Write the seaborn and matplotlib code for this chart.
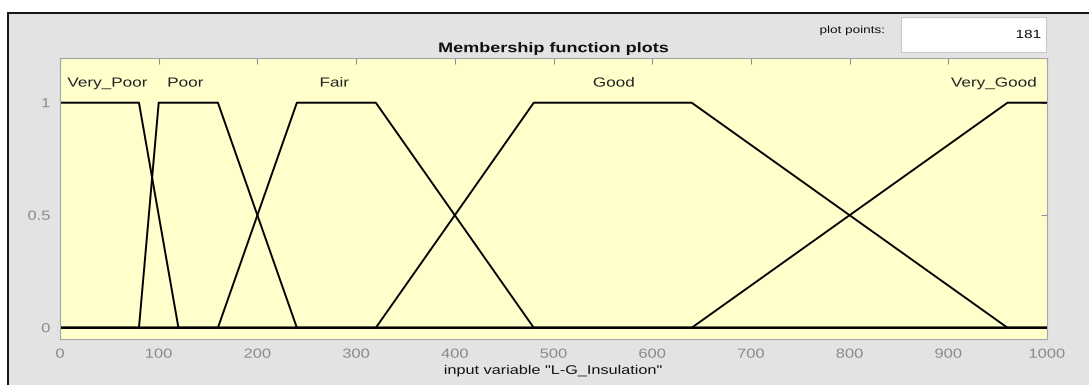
import matplotlib
matplotlib.use("Agg")
import matplotlib.pyplot as plt
import numpy as np
import pandas as pd
import seaborn as sns
from matplotlib import patheffects
from matplotlib.patches import Rectangle
from matplotlib.transforms import Affine2D

# Membership functions of the input variable: trapezoid corners (a, b, c, d)
set_names = ["Very_Poor", "Poor", "Fair", "Good", "Very_Good"]
very_poor = [0, 0, 80, 120]
poor = [80, 100, 160, 240]
fair = [160, 240, 320, 480]
good = [320, 480, 640, 960]
very_good = [640, 960, 1000, 1000]

x_range = [0, 1000]
x_ticks = [0, 100, 200, 300, 400, 500, 600, 700, 800, 900, 1000]
y_ticks = [0, 0.5, 1]
y_tick_labels = ["0", "0.5", "1"]
plot_points = 181
variable_name = "L-G_Insulation"

# where each set name is written above its plateau
name_x = [48, 127, 278, 561, 946]
name_y = 1.085

W, H = 1089, 385
sns.set_theme(style="white")
plt.rcParams["font.family"] = ["Liberation Sans", "DejaVu Sans"]


class Widen(patheffects.AbstractPathEffect):
    """Draw text glyphs widened horizontally about an anchor."""

    def __init__(self, sx=1.3, anchor="center"):
        super().__init__()
        self.sx = sx
        self.anchor = anchor

    def draw_path(self, renderer, gc, tpath, affine, rgbFace=None):
        ext = tpath.get_extents(affine)
        cx = {"left": ext.x0, "center": 0.5 * (ext.x0 + ext.x1), "right": ext.x1}[self.anchor]
        aff = affine + Affine2D().translate(-cx, 0).scale(self.sx, 1).translate(cx, 0)
        renderer.draw_path(gc, tpath, aff, rgbFace)


def outline(p, lo, hi):
    a, b, c, d = p
    xs, ys = [], []
    if b > lo:
        xs += [lo, a]
        ys += [0, 0]
    xs += [b, c]
    ys += [1, 1]
    if c < hi:
        xs += [d, hi]
        ys += [0, 0]
    return xs, ys


rows = []
for name, p in zip(set_names, [very_poor, poor, fair, good, very_good]):
    xs, ys = outline(p, *x_range)
    for i, (x, y) in enumerate(zip(xs, ys)):
        rows.append({"set": name, "x": x, "mu": y, "i": i})
df = pd.DataFrame(rows)

fig = plt.figure(figsize=(W / 100, H / 100), dpi=100, facecolor="white")

# gray panel with black top and left border
fig.patches.append(Rectangle((8 / W, -0.5), 1.0, 0.5 + 1 - 13 / H, transform=fig.transFigure,
                             facecolor="#e3e3e3", edgecolor="black", lw=1.3, zorder=-2))
# "plot points" entry box
fig.patches.append(Rectangle((901 / W, 1 - 52 / H), 145 / W, 35 / H, transform=fig.transFigure,
                             facecolor="white", edgecolor="#c9c9c9", lw=0.8, zorder=-1))

ax = fig.add_axes([60 / W, 1 - 339 / H, 987 / W, (339 - 57.7) / H])
ax.set_facecolor("#ffffcc")

sns.lineplot(data=df, x="x", y="mu", hue="set", hue_order=set_names,
             palette=["black"] * len(set_names), sort=False, estimator=None,
             legend=False, lw=1.4, ax=ax)

ax.set_xlim(*x_range)
ax.set_ylim(-0.05, 1.2)
ax.set_xticks(x_ticks)
ax.set_xticklabels([str(t) for t in x_ticks])
ax.set_yticks(y_ticks)
ax.set_yticklabels(y_tick_labels)
ax.tick_params(direction="in", top=True, right=True, length=4, width=0.8,
               color="#8f8f8f", labelcolor="#8a8a8a", labelsize=9.5, pad=7)
for s in ax.spines.values():
    s.set_color("#a6a6a6")
    s.set_linewidth(0.8)

for name, nx in zip(set_names, name_x):
    ax.text(nx, name_y, name, ha="center", va="center", fontsize=9.5, color="#222222",
            path_effects=[Widen(1.3, "center")])

ax.set_title("Membership function plots", fontsize=10, fontweight="bold", pad=4,
             color="#111111", path_effects=[Widen(1.3, "center")])
ax.set_xlabel(f'input variable "{variable_name}"', fontsize=9, labelpad=3, color="#111111")
ax.set_ylabel("")
ax.xaxis.label.set_path_effects([Widen(1.3, "center")])

for lbl in ax.get_xticklabels():
    lbl.set_path_effects([Widen(1.25, "center")])
for lbl in ax.get_yticklabels():
    lbl.set_path_effects([Widen(1.25, "right")])

fig.text(852 / W, 1 - 30 / H, "plot points:", ha="center", va="center", fontsize=7.5,
         color="#111111", path_effects=[Widen(1.3, "center")])
fig.text(1041 / W, 1 - 35 / H, str(plot_points), ha="right", va="center", fontsize=8.5,
         color="#111111", path_effects=[Widen(1.3, "right")])

fig.savefig("out.png", dpi=100, facecolor=fig.get_facecolor())
